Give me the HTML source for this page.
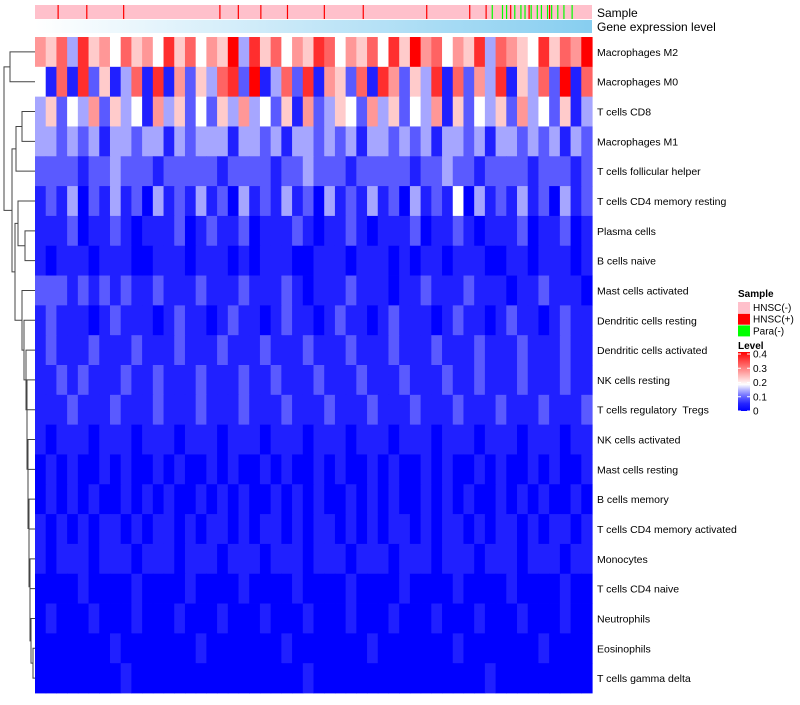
<!DOCTYPE html>
<html><head><meta charset="utf-8"><style>
body{margin:0;background:#fff;font-family:"Liberation Sans",sans-serif}
svg text{font-family:"Liberation Sans",sans-serif;white-space:pre}
</style></head><body>
<svg id="chart" width="800" height="700" xmlns="http://www.w3.org/2000/svg"></svg>
<script>
const rowNames=["Macrophages M2","Macrophages M0","T cells CD8","Macrophages M1","T cells follicular helper","T cells CD4 memory resting","Plasma cells","B cells naive","Mast cells activated","Dendritic cells resting","Dendritic cells activated","NK cells resting","T cells regulatory  Tregs","NK cells activated","Mast cells resting","B cells memory","T cells CD4 memory activated","Monocytes","T cells CD4 naive","Neutrophils","Eosinophils","T cells gamma delta"];
// digit levels 0-9 (value = d*0.045)
const rowLevels=[
"6573856475648574659385746587465748596746583765485769",
"4171825137181625378291372816527186253817263815372917",
"3524362534163524253634251623542635243615243526342513",
"3323231332331323331332313323231332323133231332323132",
"2222122322212222212222122322212222212232212222122212",
"1213021312031213120312131203121312031214031213120312",
"1112011210111201211201112101121011120112101112011201",
"1011101110011101110101110011101110101101110011011101",
"2221212121121112111211121011121110112111211101121110",
"1211101211101211012110121101211012111012110121101211",
"1211121112111211121112111211121112111211121112111211",
"1121211121121112111211211121112111211121121112111211",
"1112111211121112111211121112111211121112111211121112",
"1011101110111011101110111011101110111011101110111011",
"0101001010010100101001010010100101001010010100101001",
"0101010010101001010100101010010101001010100101010010",
"1010101101011010110101101011010101101011010110101101",
"1011101110111011101110111011101110111011101110111011",
"0000100001000010000100001000010000100001000010000100",
"0100010001000100010001000100010001000100010001000100",
"0000000100000001000000010000000100000001000000010000",
"0000000010000000000000000100000000000000001000000000"];
// sample type per annotation column: n=HNSC(-), p=HNSC(+), g=Para(-)
const sampleTypes="nnnnnnnnnnnpnnnnnnnnnnnnnpnnnnnnnnnnnnnnnnnpnnnnnnnnnnnnnnnnnnnnnnnnnnnnnnnnnnnnnnnnnnnnnnpnnnnnnnnpnnnnnnnnnnpnnnnnnnnnnnnpnnnnnnnnnnnnnnnnnpnnnnnnnnnnnnnnnnnnpnnnnnnnnnnnnnnnnnnnnnnnnnnnnnnpnnnnnnnnnnnnnnnnnnnnpnnnnnnnpnngnnnngngnpngnngngnpgnngngnngpgnngnngnnngnnnnnnnnn";
const legendSample=["HNSC(-)","HNSC(+)","Para(-)"];
const legendTicks=[0,0.1,0.2,0.3,0.4];
// dendrogram merges: [childA, childB, xHeight]
const merges=[[0,1,10],[2,3,22],["m1",4,16],[6,7,25],[5,"m3",18],[20,21,33],[19,"m5",31],[18,"m6",30],[17,"m7",30],[16,"m8",29],[15,"m9",29],[14,"m10",28],[13,"m11",28],[12,"m12",27],[11,"m13",27],[10,"m14",26],[9,"m15",24],[8,"m16",22],["m4","m17",15],["m2","m18",12],["m0","m19",4]];

const NS="http://www.w3.org/2000/svg";
const svg=document.getElementById('chart');
function el(t,a,p){const e=document.createElementNS(NS,t);for(const k in a)e.setAttribute(k,a[k]);(p||svg).appendChild(e);return e;}
const X0=35,X1=592,Y0=37,Y1=693;
const rowH=(Y1-Y0)/rowNames.length;
function colorOf(v){
  if(v<=0.18){const t=Math.pow(v/0.18,1.5);const c=Math.round(255*t);return `rgb(${c},${c},255)`;}
  const t=Math.min(1,(v-0.18)/0.22);return `rgb(255,${Math.round(255*(1-t))},${Math.round(255*(1-t))})`;
}
// sample annotation
const sc={n:"#ffc0cb",p:"#ff0000",g:"#00ff00"};
const sw=(X1-X0)/sampleTypes.length;
let ann=el('g',{});


el('rect',{x:X0,y:5,width:X1-X0,height:14,fill:sc.n},ann);
for(let i=0;i<sampleTypes.length;i++){const c=sampleTypes[i];if(c!=='n'){el('rect',{x:X0+i*sw,y:5,width:Math.max(1.2,sw*0.5),height:14,fill:sc[c]},ann);}}
const defs=el('defs',{});
const lg=el('linearGradient',{id:'gexp',x1:0,x2:1,y1:0,y2:0},defs);
el('stop',{offset:0,'stop-color':'#ffffff'},lg);el('stop',{offset:1,'stop-color':'#87cef0'},lg);
const ge=el('rect',{x:X0,y:20,width:X1-X0,height:13,fill:'url(#gexp)'});


const t1=el('text',{x:597,y:17,'font-size':12});t1.textContent="Sample";


const t2=el('text',{x:597,y:31,'font-size':12});t2.textContent="Gene expression level";


// heatmap
rowLevels.forEach((s,r)=>{
  const g=el('g',{});
  
  
  const w=(X1-X0)/s.length;
  for(let i=0;i<s.length;i++){
    const v=parseInt(s[i])*0.045;
    const c=el('rect',{x:X0+i*w,y:Y0+r*rowH,width:w+0.6,height:rowH+0.4,fill:colorOf(v)},g);
    
    
  }
  const lab=el('text',{x:597,y:Y0+(r+0.5)*rowH+4,'font-size':10.5});
  lab.textContent=rowNames[r];
  
  
});
// dendrogram
const dg=el('g',{stroke:'#444','stroke-width':1,fill:'none'});


const nodes={};
function node(k){if(typeof k==='number')return {x:X0,y:Y0+(k+0.5)*rowH};return nodes[k];}
merges.forEach((m,i)=>{
  const a=node(m[0]),b=node(m[1]),x=m[2];
  el('path',{d:`M${a.x},${a.y}H${x}V${b.y}H${b.x}`},dg);
  nodes['m'+i]={x:x,y:(a.y+b.y)/2};
});
// legend
const L=el('g',{});


const lt=el('text',{x:738,y:297,'font-size':10,'font-weight':'bold'},L);lt.textContent="Sample";
legendSample.forEach((n,i)=>{
  const e=el('rect',{x:738,y:302+i*11.7,width:12,height:11,fill:[sc.n,sc.p,sc.g][i]},L);
  
  
  const t=el('text',{x:753,y:311+i*11.7,'font-size':10},L);t.textContent=n;
});
const lt2=el('text',{x:738,y:349,'font-size':10,'font-weight':'bold'},L);lt2.textContent="Level";
const cg=el('linearGradient',{id:'lvl',x1:0,x2:0,y1:1,y2:0},defs);
[0,0.05,0.1,0.14,0.18,0.3,0.4].forEach(v=>el('stop',{offset:v/0.4,'stop-color':colorOf(v)},cg));
const cb=el('rect',{x:738,y:352,width:12,height:59,fill:'url(#lvl)'},L);


legendTicks.forEach(v=>{
  const y=411-(v/0.4)*57;
  el('line',{x1:738,x2:741,y1:y,y2:y,stroke:'#fff'},L);el('line',{x1:747,x2:750,y1:y,y2:y,stroke:'#fff'},L);
  const t=el('text',{x:753,y:y+3.5,'font-size':10},L);t.textContent=v===0?"0":v.toString();
});
</script>
</body></html>
